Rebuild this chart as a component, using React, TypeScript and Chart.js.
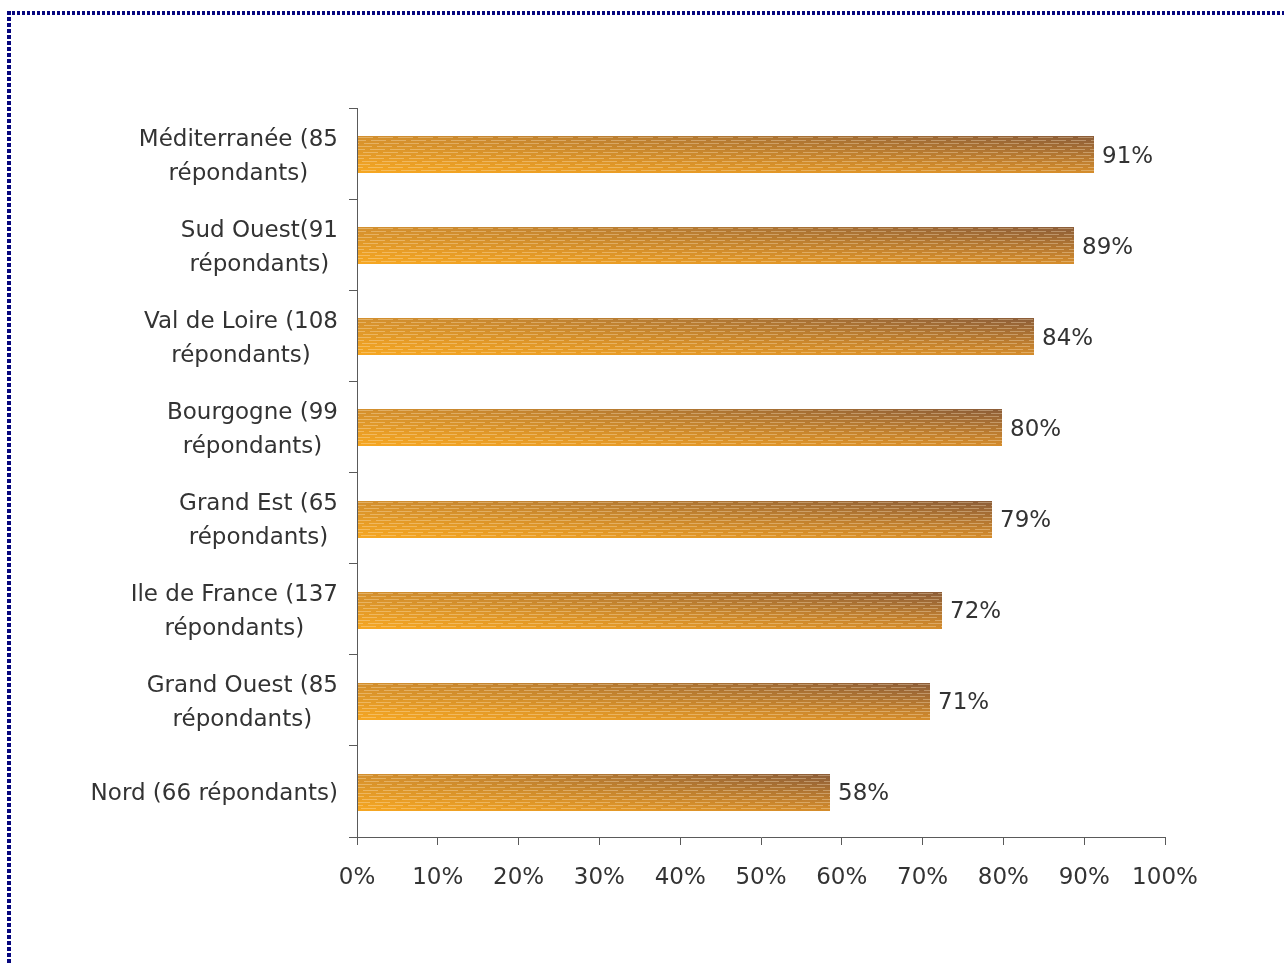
import React, { useEffect, useRef } from "react";
import { Chart, registerables } from "chart.js";

Chart.register(...registerables);

// ---- Data ----
const categories: string[][] = [
  ["Méditerranée (85", "répondants)"],
  ["Sud Ouest(91", "répondants)"],
  ["Val de Loire (108", "répondants)"],
  ["Bourgogne (99", "répondants)"],
  ["Grand Est (65", "répondants)"],
  ["Ile de France (137", "répondants)"],
  ["Grand Ouest (85", "répondants)"],
  ["Nord (66 répondants)"],
];
const values: number[] = [91.2, 88.7, 83.8, 79.8, 78.6, 72.4, 70.9, 58.5];
const valueLabels: string[] = ["91%", "89%", "84%", "80%", "79%", "72%", "71%", "58%"];
const xMin = 0;
const xMax = 100;
const xStep = 10;

// ---- Styles ----
const FONT = "'DejaVu Sans', Verdana, sans-serif";
const FONT_SIZE = 23;
const TEXT_COLOR = "#333333";
const AXIS_COLOR = "#5a5a5a";
const TL = [212, 144, 46];
const BL = [246, 167, 34];
const TR = [140, 93, 56];
const BR = [212, 140, 44];

const mix = (a: number[], b: number[], t: number) =>
  `rgb(${Math.round(a[0] + (b[0] - a[0]) * t)},${Math.round(a[1] + (b[1] - a[1]) * t)},${Math.round(a[2] + (b[2] - a[2]) * t)})`;

const borderPlugin = {
  id: "dottedBorder",
  beforeDraw(chart: any) {
    const ctx = chart.ctx;
    ctx.save();
    ctx.strokeStyle = "#06067e";
    ctx.lineWidth = 4;
    ctx.setLineDash([3, 2]);
    ctx.beginPath();
    ctx.moveTo(7, 13);
    ctx.lineTo(chart.width, 13);
    ctx.stroke();
    ctx.setLineDash([4, 2]);
    ctx.beginPath();
    ctx.moveTo(9, 11);
    ctx.lineTo(9, chart.height);
    ctx.stroke();
    ctx.restore();
  },
};

const barPaintPlugin = {
  id: "barPaint",
  afterDatasetsDraw(chart: any) {
    const ctx = chart.ctx;
    const meta = chart.getDatasetMeta(0);
    ctx.save();
    meta.data.forEach((el: any, i: number) => {
      const p = el.getProps(["x", "y", "base", "height"], true);
      const left = Math.round(Math.min(p.base, p.x));
      const right = Math.round(Math.max(p.base, p.x));
      const top = Math.round(p.y - p.height / 2) + 1;
      const bottom = Math.round(p.y + p.height / 2) + 1;
      const w = right - left;
      const h = bottom - top;
      ctx.clearRect(left, top - 1, w, h + 2);
      ctx.fillStyle = "#fff";
      ctx.fillRect(left, top - 1, w, h + 2);
      for (let r = 0; r < h; r++) {
        const t = h > 1 ? r / (h - 1) : 0;
        const g = ctx.createLinearGradient(left, 0, right, 0);
        g.addColorStop(0, mix(TL, BL, t));
        g.addColorStop(1, mix(TR, BR, t));
        ctx.fillStyle = g;
        ctx.fillRect(left, top + r, w, 1);
      }
      // light dashed stripes
      ctx.fillStyle = "rgba(255,236,205,0.34)";
      let row = 0;
      for (let y = top + 1; y < bottom - 1; y += 3, row++) {
        const period = 20;
        const off = (row * 7) % period;
        for (let x = left - off; x < right; x += period) {
          const a = Math.max(x, left);
          const b = Math.min(x + 15, right);
          if (b > a) ctx.fillRect(a, y, b - a, 1);
        }
      }
      // value label
      ctx.fillStyle = TEXT_COLOR;
      ctx.font = `${FONT_SIZE}px ${FONT}`;
      ctx.textAlign = "left";
      ctx.textBaseline = "middle";
      ctx.fillText(valueLabels[i], right + 8, p.y + 3);
    });
    ctx.restore();
  },
};

const yLabelPlugin = {
  id: "yLabels",
  afterDraw(chart: any) {
    const ctx = chart.ctx;
    const ys = chart.scales.y;
    const rightEdge = chart.chartArea.left - 19;
    const lh = 34;
    ctx.save();
    ctx.fillStyle = TEXT_COLOR;
    ctx.font = `${FONT_SIZE}px ${FONT}`;
    ctx.textAlign = "center";
    ctx.textBaseline = "middle";
    categories.forEach((lines, i) => {
      const yc = ys.getPixelForValue(i);
      const maxW = Math.max(...lines.map((l) => ctx.measureText(l).width));
      const cx = rightEdge - maxW / 2;
      lines.forEach((line, j) => {
        ctx.fillText(line, cx, yc + 3 + (j - (lines.length - 1) / 2) * lh);
      });
    });
    ctx.restore();
  },
};

export default function App() {
  const ref = useRef<HTMLCanvasElement | null>(null);
  useEffect(() => {
    if (!ref.current) return;
    const chart = new Chart(ref.current, {
      type: "bar",
      data: {
        labels: categories.map((c) => c.join(" ")),
        datasets: [
          {
            data: values,
            backgroundColor: "rgba(0,0,0,0)",
            borderWidth: 0,
            barThickness: 37,
          },
        ],
      },
      options: {
        indexAxis: "y",
        animation: false,
        responsive: true,
        maintainAspectRatio: false,
        layout: { padding: { top: 108, right: 119, left: 0, bottom: 0 } },
        plugins: { legend: { display: false }, tooltip: { enabled: false }, title: { display: false } },
        scales: {
          x: {
            type: "linear",
            min: xMin,
            max: xMax,
            ticks: {
              stepSize: xStep,
              color: TEXT_COLOR,
              font: { family: FONT, size: FONT_SIZE },
              padding: 19,
              callback: (v: any) => `${v}%`,
            },
            grid: { drawOnChartArea: false, drawTicks: true, tickLength: 8, color: AXIS_COLOR },
            border: { display: true, color: AXIS_COLOR, width: 1 },
            afterFit: (s: any) => {
              s.height = 128;
            },
          },
          y: {
            type: "category",
            offset: true,
            ticks: { display: false },
            grid: { offset: true, drawOnChartArea: false, drawTicks: true, tickLength: 8, color: AXIS_COLOR },
            border: { display: true, color: AXIS_COLOR, width: 1 },
            afterFit: (s: any) => {
              s.width = 357;
            },
          },
        },
      },
      plugins: [borderPlugin, barPaintPlugin, yLabelPlugin],
    });
    return () => chart.destroy();
  }, []);
  return (
    <div style={{ position: "absolute", left: 0, top: 0, width: 1284, height: 965, background: "#fff" }}>
      <canvas ref={ref} />
    </div>
  );
}
